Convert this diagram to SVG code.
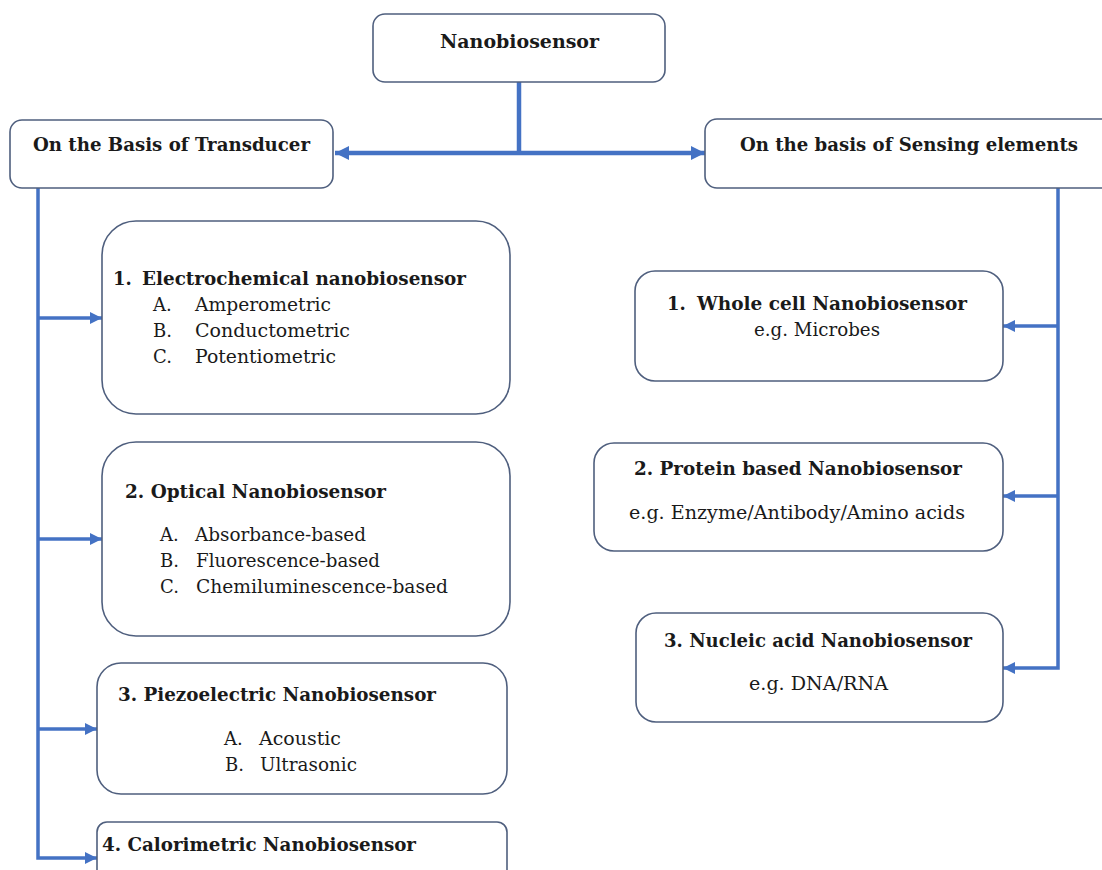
<svg xmlns="http://www.w3.org/2000/svg" width="1102" height="870" viewBox="0 0 1102 870">
<style>
.box{fill:#ffffff;stroke:#4f5f7e;stroke-width:1.6}
.h{font-family:"DejaVu Serif","Liberation Serif",serif;font-weight:bold;font-size:18px;fill:#1a1a1a}
.t{font-family:"DejaVu Serif","Liberation Serif",serif;font-size:18px;fill:#1a1a1a}
.c{fill:none;stroke:#4472c4;stroke-width:3.5}
.m{fill:none;stroke:#4472c4;stroke-width:4.5}
</style>
<defs>
<marker id="big" markerUnits="userSpaceOnUse" markerWidth="14" markerHeight="14" refX="14" refY="7" orient="auto"><path d="M0,0 L14,7 L0,14 z" fill="#4472c4"/></marker>
<marker id="sm" markerUnits="userSpaceOnUse" markerWidth="12" markerHeight="12" refX="12" refY="6" orient="auto"><path d="M0,0 L12,6 L0,12 z" fill="#4472c4"/></marker>
</defs>
<rect width="1102" height="870" fill="#ffffff"/>
<g id="connectors">
<path class="m" d="M519,82 V153"/>
<path class="m" d="M519,153 H335" marker-end="url(#big)"/>
<path class="m" d="M519,153 H705" marker-end="url(#big)"/>
<path class="c" d="M38,188 V858 H97" marker-end="url(#sm)"/>
<path class="c" d="M38,318 H102" marker-end="url(#sm)"/>
<path class="c" d="M38,539 H102" marker-end="url(#sm)"/>
<path class="c" d="M38,729 H97" marker-end="url(#sm)"/>
<path class="c" d="M1058,188 V668 H1003" marker-end="url(#sm)"/>
<path class="c" d="M1058,326 H1003" marker-end="url(#sm)"/>
<path class="c" d="M1058,496 H1003" marker-end="url(#sm)"/>
</g>
<g id="root">
<rect class="box" x="373" y="14" width="292" height="68" rx="12"/>
<text class="h" x="519.5" y="48" text-anchor="middle" textLength="159" lengthAdjust="spacingAndGlyphs">Nanobiosensor</text>
</g>
<g id="transducer">
<rect class="box" x="10" y="120" width="323" height="68" rx="12"/>
<text class="h" x="33" y="151" textLength="277" lengthAdjust="spacingAndGlyphs">On the Basis of Transducer</text>
</g>
<g id="sensing">
<rect class="box" x="705" y="119" width="420" height="69" rx="12"/>
<text class="h" x="740" y="151" textLength="338" lengthAdjust="spacingAndGlyphs">On the basis of Sensing elements</text>
</g>
<g id="electrochemical">
<rect class="box" x="102" y="221" width="408" height="193" rx="34"/>
<text class="h" x="113" y="285">1.</text>
<text class="h" x="142" y="285" textLength="324" lengthAdjust="spacingAndGlyphs">Electrochemical nanobiosensor</text>
<text class="t" x="153" y="311">A.</text>
<text class="t" x="195" y="311" textLength="136" lengthAdjust="spacingAndGlyphs">Amperometric</text>
<text class="t" x="153" y="337">B.</text>
<text class="t" x="195" y="337" textLength="155" lengthAdjust="spacingAndGlyphs">Conductometric</text>
<text class="t" x="153" y="363">C.</text>
<text class="t" x="195" y="363" textLength="141" lengthAdjust="spacingAndGlyphs">Potentiometric</text>
</g>
<g id="optical">
<rect class="box" x="102" y="442" width="408" height="194" rx="34"/>
<text class="h" x="125" y="498" textLength="261" lengthAdjust="spacingAndGlyphs">2. Optical Nanobiosensor</text>
<text class="t" x="160" y="541">A.</text>
<text class="t" x="195" y="541" textLength="171" lengthAdjust="spacingAndGlyphs">Absorbance-based</text>
<text class="t" x="160" y="567">B.</text>
<text class="t" x="196" y="567" textLength="184" lengthAdjust="spacingAndGlyphs">Fluorescence-based</text>
<text class="t" x="160" y="593">C.</text>
<text class="t" x="196" y="593" textLength="252" lengthAdjust="spacingAndGlyphs">Chemiluminescence-based</text>
</g>
<g id="piezoelectric">
<rect class="box" x="97" y="663" width="410" height="131" rx="24"/>
<text class="h" x="118" y="701" textLength="318" lengthAdjust="spacingAndGlyphs">3. Piezoelectric Nanobiosensor</text>
<text class="t" x="224" y="745">A.</text>
<text class="t" x="259" y="745" textLength="82" lengthAdjust="spacingAndGlyphs">Acoustic</text>
<text class="t" x="225" y="771">B.</text>
<text class="t" x="260" y="771" textLength="97" lengthAdjust="spacingAndGlyphs">Ultrasonic</text>
</g>
<g id="calorimetric">
<rect class="box" x="97" y="822" width="410" height="70" rx="10"/>
<text class="h" x="102" y="851" textLength="314" lengthAdjust="spacingAndGlyphs">4. Calorimetric Nanobiosensor</text>
</g>
<g id="wholecell">
<rect class="box" x="635" y="271" width="368" height="110" rx="20"/>
<text class="h" x="667" y="310">1.</text>
<text class="h" x="697" y="310" textLength="270" lengthAdjust="spacingAndGlyphs">Whole cell Nanobiosensor</text>
<text class="t" x="817" y="336" text-anchor="middle" textLength="126" lengthAdjust="spacingAndGlyphs">e.g. Microbes</text>
</g>
<g id="protein">
<rect class="box" x="594" y="443" width="409" height="108" rx="20"/>
<text class="h" x="798" y="475" text-anchor="middle" textLength="328" lengthAdjust="spacingAndGlyphs">2. Protein based Nanobiosensor</text>
<text class="t" x="797" y="519" text-anchor="middle" textLength="336" lengthAdjust="spacingAndGlyphs">e.g. Enzyme/Antibody/Amino acids</text>
</g>
<g id="nucleic">
<rect class="box" x="636" y="613" width="367" height="109" rx="20"/>
<text class="h" x="818" y="647" text-anchor="middle" textLength="308" lengthAdjust="spacingAndGlyphs">3. Nucleic acid Nanobiosensor</text>
<text class="t" x="818.5" y="690" text-anchor="middle" textLength="139" lengthAdjust="spacingAndGlyphs">e.g. DNA/RNA</text>
</g>
</svg>
